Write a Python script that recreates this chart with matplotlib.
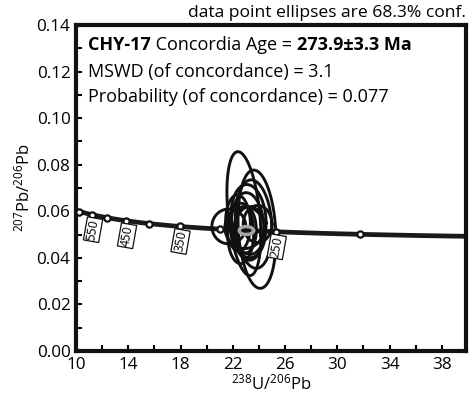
import numpy as np
import matplotlib.pyplot as plt
from matplotlib.ticker import MultipleLocator

plt.rcParams['font.family'] = ['Open Sans', 'DejaVu Sans']
plt.rcParams['mathtext.fontset'] = 'custom'
plt.rcParams['mathtext.rm'] = 'Open Sans'
plt.rcParams['mathtext.default'] = 'regular'

# decay constants (1/yr) and present-day 238U/235U
LAMBDA_238 = 1.55125e-10
LAMBDA_235 = 9.8485e-10
U238_U235 = 137.88

# age marks along the concordia (Ma) and the ones that get a label
tick_ages = [600, 550, 500, 450, 400, 350, 300, 250, 200]
labelled_ages = [550, 450, 350, 250]

# spot analyses: 238U/206Pb, 207Pb/206Pb, ellipse half-axes, error correlation
u_pb = [22.85, 23.85, 23.60, 23.15, 21.70, 22.90, 23.30, 22.60, 23.90, 22.40, 23.20, 22.95]
u_pb_err = [1.30, 1.45, 1.40, 1.25, 1.30, 1.50, 1.20, 1.00, 1.10, 0.95, 1.35, 0.85]
pb_pb = [0.0590, 0.0523, 0.0545, 0.0535, 0.0535, 0.0530, 0.0510, 0.0505, 0.0545, 0.0550, 0.0565, 0.0520]
pb_pb_err = [0.0266, 0.0254, 0.0190, 0.0145, 0.0075, 0.0090, 0.0110, 0.0130, 0.0080, 0.0120, 0.0150, 0.0100]
rho = [-0.35, -0.17, -0.14, -0.10, 0.0, 0.0, 0.0, 0.0, 0.0, -0.05, -0.10, 0.0]

# concordia age result
sample = 'CHY-17'
conc_age = 273.9
conc_age_err = 3.3
mswd = 3.1
prob = 0.077
conc_x_err = 0.55
conc_y_err = 0.0017


def tw_concordia(t_ma):
    t = np.asarray(t_ma, dtype=float) * 1e6
    e238 = np.exp(LAMBDA_238 * t) - 1
    e235 = np.exp(LAMBDA_235 * t) - 1
    return 1 / e238, e235 / e238 / U238_U235


def error_ellipse(cx, cy, hx, hy, r, n=200):
    th = np.linspace(0, 2 * np.pi, n)
    x = cx + hx * np.cos(th)
    y = cy + hy * (r * np.cos(th) + np.sqrt(1 - r ** 2) * np.sin(th))
    return x, y


fig = plt.figure(figsize=(4.73, 4.04), dpi=100)
ax = fig.add_axes([76 / 473, 53 / 404, 390 / 473, 326 / 404])

# concordia curve
cx, cy = tw_concordia(np.linspace(150, 650, 400))
ax.plot(cx, cy, color='#1a1a1a', lw=3.4, zorder=2)

# data ellipses
for x0, sx, y0, sy, r in zip(u_pb, u_pb_err, pb_pb, pb_pb_err, rho):
    ex, ey = error_ellipse(x0, y0, sx, sy, r)
    ax.plot(ex, ey, color='#111111', lw=2.1, zorder=3)

# age marks and labels
mx, my = tw_concordia(tick_ages)
ax.plot(mx, my, 'o', ms=4.5, mfc='white', mec='#111111', mew=1.6, zorder=4)
lx, ly = tw_concordia(labelled_ages)
for age, x0, y0 in zip(labelled_ages, lx, ly):
    ax.annotate(str(age), (x0, y0), xytext=(1, -15), textcoords='offset pixels',
                ha='center', va='center', rotation=80, fontsize=8.8, zorder=5,
                bbox=dict(boxstyle='square,pad=0.1', fc='white', ec='#111111', lw=0.9))

# concordia age ellipse
gx, gy = tw_concordia(conc_age)
ex, ey = error_ellipse(gx, gy, conc_x_err, conc_y_err, 0.0)
ax.plot(ex, ey, color='#a6a6a6', lw=2.4, zorder=6)

ax.set_xlim(10, 39.85)
ax.set_ylim(0, 0.14)
ax.xaxis.set_major_locator(MultipleLocator(4, offset=2))
ax.xaxis.set_minor_locator(MultipleLocator(2))
ax.yaxis.set_major_locator(MultipleLocator(0.02))
ax.yaxis.set_minor_locator(MultipleLocator(0.01))
ax.yaxis.set_major_formatter(plt.FormatStrFormatter('%.2f'))
ax.tick_params(which='both', direction='in', length=4, width=1.5, labelsize=12.3, pad=4)
for s in ax.spines.values():
    s.set_linewidth(3.0)
    s.set_color('#111111')

ax.set_xlabel('$^{238}$U/$^{206}$Pb', fontsize=12, labelpad=1)
ax.set_ylabel('$^{207}$Pb/$^{206}$Pb', fontsize=12, labelpad=2)

ax.text(1.0, 1.012, 'data point ellipses are 68.3% conf.', transform=ax.transAxes,
        ha='right', va='bottom', fontsize=12.6)

# result box text, bold and regular pieces chained along the first line
t0 = ax.text(0.031, 0.939, sample, transform=ax.transAxes, fontsize=13,
             fontweight='bold', ha='left', va='center')
t1 = ax.annotate(' Concordia Age = ', xy=(1, 0), xycoords=t0, fontsize=13,
                 ha='left', va='bottom')
ax.annotate(f'{conc_age}±{conc_age_err} Ma', xy=(1, 0), xycoords=t1, fontsize=13,
            fontweight='bold', ha='left', va='bottom')
ax.text(0.031, 0.856, f'MSWD (of concordance) = {mswd}', transform=ax.transAxes,
        fontsize=13, ha='left', va='center')
ax.text(0.031, 0.779, f'Probability (of concordance) = {prob}', transform=ax.transAxes,
        fontsize=13, ha='left', va='center')

fig.savefig('out.png', dpi=100)
